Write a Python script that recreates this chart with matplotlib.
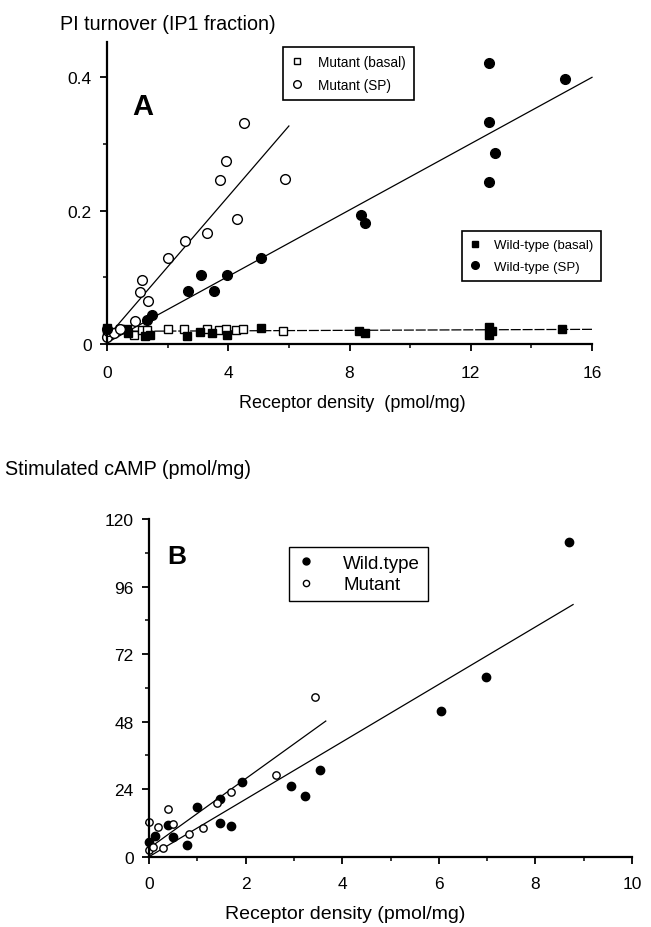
import matplotlib
matplotlib.use("Agg")
import matplotlib.pyplot as plt
from matplotlib.lines import Line2D

plt.rcParams['font.family'] = ['Liberation Sans', 'DejaVu Sans']

# ---------------- Panel A data ----------------
mut_basal_x = [0.0, 0.1, 0.43, 0.89, 1.14, 1.33, 2.0, 2.55, 3.3, 3.68, 3.91, 4.27, 4.5, 5.8]
mut_basal_y = [0.013, 0.018, 0.022, 0.013, 0.021, 0.021, 0.022, 0.022, 0.022, 0.021, 0.022, 0.021, 0.022, 0.020]

wt_basal_x = [0.0, 0.67, 0.7, 1.26, 1.41, 2.65, 3.06, 3.48, 3.97, 5.07, 8.32, 8.5, 12.6, 12.7, 12.6, 15.0]
wt_basal_y = [0.024, 0.022, 0.016, 0.012, 0.013, 0.012, 0.018, 0.017, 0.013, 0.024, 0.019, 0.016, 0.025, 0.019, 0.013, 0.022]

mut_sp_x = [0.0, 0.04, 0.23, 0.43, 0.92, 1.08, 1.17, 1.36, 2.02, 2.57, 3.30, 3.74, 3.94, 4.29, 4.52, 5.86]
mut_sp_y = [0.010, 0.020, 0.016, 0.022, 0.035, 0.078, 0.096, 0.065, 0.129, 0.155, 0.167, 0.246, 0.274, 0.187, 0.331, 0.248]

wt_sp_x = [0.0, 1.33, 1.47, 2.67, 3.09, 3.52, 3.97, 5.09, 8.38, 8.52, 12.6, 12.6, 12.8, 12.6, 15.1]
wt_sp_y = [0.022, 0.036, 0.044, 0.079, 0.103, 0.079, 0.103, 0.129, 0.194, 0.181, 0.422, 0.333, 0.286, 0.243, 0.397]

fitA_mut_sp_x = [0.0, 6.0]
fitA_mut_sp_y = [0.010, 0.327]
fitA_wt_sp_x = [0.0, 16.0]
fitA_wt_sp_y = [0.002, 0.400]
fitA_basal_x = [0.0, 16.0]
fitA_basal_y = [0.019, 0.022]

A_xticks = [0, 4, 8, 12, 16]
A_xticklabels = ["0", "4", "8", "12", "16"]
A_yticks = [0, 0.2, 0.4]
A_yticklabels = ["0", "0.2", "0.4"]

# ---------------- Panel B data ----------------
wt_x = [0.0, 0.12, 0.40, 0.50, 0.79, 0.99, 1.47, 1.47, 1.70, 1.93, 2.93, 3.22, 3.55, 6.05, 6.97, 8.70]
wt_y = [5.2, 7.5, 11.3, 6.9, 4.1, 17.5, 20.5, 12.0, 10.9, 26.5, 25.2, 21.4, 30.9, 51.8, 64.0, 111.8]

mut_x = [0.0, 0.0, 0.09, 0.19, 0.28, 0.40, 0.50, 0.83, 1.11, 1.40, 1.70, 2.62, 3.44]
mut_y = [12.3, 2.5, 3.3, 10.4, 3.0, 16.8, 11.6, 8.2, 10.2, 19.2, 23.1, 29.2, 56.6]

fitB_wt_x = [0.0, 8.78]
fitB_wt_y = [0.0, 89.6]
fitB_mut_x = [0.0, 3.66]
fitB_mut_y = [3.0, 48.2]

B_xticks = [0, 2, 4, 6, 8, 10]
B_xticklabels = ["0", "2", "4", "6", "8", "10"]
B_yticks = [0, 24, 48, 72, 96, 120]
B_yticklabels = ["0", "24", "48", "72", "96", "120"]

W, H = 651, 928
fig = plt.figure(figsize=(W / 100, H / 100), dpi=100)


def fx(px):
    return px / W


def fy(py):
    return 1 - py / H


def style_axes(ax, tick_fs, xpad):
    for s in ["top", "right"]:
        ax.spines[s].set_visible(False)
    for s in ["left", "bottom"]:
        ax.spines[s].set_linewidth(1.6)
    ax.tick_params(which="major", direction="out", length=5, width=1.3, labelsize=tick_fs, pad=6)
    ax.tick_params(axis="x", which="major", pad=xpad)
    ax.tick_params(which="minor", direction="out", length=3, width=1.1)


# ---------------- Panel A ----------------
axA = fig.add_axes([fx(107), fy(345), fx(592) - fx(107), fy(43) - fy(345)])
axA.set_xlim(0, 16)
axA.set_ylim(0, 0.453)
style_axes(axA, 12.5, 10)
axA.set_xticks(A_xticks)
axA.set_xticklabels(A_xticklabels)
axA.set_xticks([2, 6, 10, 14], minor=True)
axA.set_yticks(A_yticks)
axA.set_yticklabels(A_yticklabels)
axA.set_yticks([0.1, 0.3], minor=True)

axA.plot(fitA_basal_x, fitA_basal_y, color="black", lw=0.9, ls=(0, (8, 1.5)), clip_on=False)
axA.plot(fitA_mut_sp_x, fitA_mut_sp_y, color="black", lw=0.9, clip_on=False)
axA.plot(fitA_wt_sp_x, fitA_wt_sp_y, color="black", lw=0.9, clip_on=False)

axA.plot(mut_basal_x, mut_basal_y, ls="none", marker="s", ms=5.8, mfc="white", mec="black", mew=1.0, clip_on=False)
axA.plot(wt_basal_x, wt_basal_y, ls="none", marker="s", ms=5.8, mfc="black", mec="black", clip_on=False)
axA.plot(mut_sp_x, mut_sp_y, ls="none", marker="o", ms=7.0, mfc="white", mec="black", mew=1.0, clip_on=False)
axA.plot(wt_sp_x, wt_sp_y, ls="none", marker="o", ms=7.0, mfc="black", mec="black", clip_on=False)

legA1 = fig.legend(
    handles=[
        Line2D([], [], ls="none", marker="s", ms=5, mfc="white", mec="black", mew=1.0),
        Line2D([], [], ls="none", marker="o", ms=5.5, mfc="white", mec="black", mew=1.0),
    ],
    labels=["Mutant (basal)", "Mutant (SP)"],
    loc="upper left", bbox_to_anchor=(fx(283), fy(48)), bbox_transform=fig.transFigure,
    fontsize=9.8, frameon=True, fancybox=False, edgecolor="black", framealpha=1,
    handlelength=0.8, handletextpad=1.2, borderpad=0.6, labelspacing=0.65, borderaxespad=0,
)
legA1.get_frame().set_linewidth(1.2)

legA2 = fig.legend(
    handles=[
        Line2D([], [], ls="none", marker="s", ms=5, mfc="black", mec="black"),
        Line2D([], [], ls="none", marker="o", ms=5.5, mfc="black", mec="black"),
    ],
    labels=["Wild-type (basal)", "Wild-type (SP)"],
    loc="upper left", bbox_to_anchor=(fx(462), fy(232)), bbox_transform=fig.transFigure,
    fontsize=9.5, frameon=True, fancybox=False, edgecolor="black", framealpha=1,
    handlelength=0.7, handletextpad=1.1, borderpad=0.6, labelspacing=0.7, borderaxespad=0,
)
legA2.get_frame().set_linewidth(1.2)

fig.text(fx(60), fy(25), "PI turnover (IP1 fraction)", fontsize=14.2, ha="left", va="center")
fig.text(fx(132), fy(107), "A", fontsize=21, fontweight="bold", ha="left", va="center")
fig.text(fx(352), fy(404), "Receptor density  (pmol/mg)", fontsize=13, ha="center", va="center")

# ---------------- Panel B ----------------
axB = fig.add_axes([fx(149), fy(857.7), fx(632) - fx(149), fy(520) - fy(857.7)])
axB.set_xlim(0, 10)
axB.set_ylim(0, 120)
style_axes(axB, 12.5, 9)
axB.set_xticks(B_xticks)
axB.set_xticklabels(B_xticklabels)
axB.set_xticks([1, 3, 5, 7, 9], minor=True)
axB.set_yticks(B_yticks)
axB.set_yticklabels(B_yticklabels)
axB.set_yticks([12, 36, 60, 84, 108], minor=True)

axB.plot(fitB_wt_x, fitB_wt_y, color="black", lw=0.9, clip_on=False)
axB.plot(fitB_mut_x, fitB_mut_y, color="black", lw=0.9, clip_on=False)
axB.plot(wt_x, wt_y, ls="none", marker="o", ms=6.0, mfc="black", mec="black", clip_on=False)
axB.plot(mut_x, mut_y, ls="none", marker="o", ms=5.3, mfc="white", mec="black", mew=1.0, clip_on=False)

legB = fig.legend(
    handles=[
        Line2D([], [], ls="none", marker="o", ms=5, mfc="black", mec="black"),
        Line2D([], [], ls="none", marker="o", ms=4.5, mfc="white", mec="black", mew=1.0),
    ],
    labels=["Wild.type", "Mutant"],
    loc="upper left", bbox_to_anchor=(fx(289), fy(548)), bbox_transform=fig.transFigure,
    fontsize=13.5, frameon=True, fancybox=False, edgecolor="black", framealpha=1,
    handlelength=1.0, handletextpad=1.5, borderpad=0.4, labelspacing=0.25, borderaxespad=0,
)
legB.get_frame().set_linewidth(1.0)

fig.text(fx(5), fy(470), "Stimulated cAMP (pmol/mg)", fontsize=14.2, ha="left", va="center")
fig.text(fx(167), fy(557), "B", fontsize=19, fontweight="bold", ha="left", va="center")
fig.text(fx(345), fy(915), "Receptor density (pmol/mg)", fontsize=14, ha="center", va="center")

fig.savefig("out.png", dpi=100)
